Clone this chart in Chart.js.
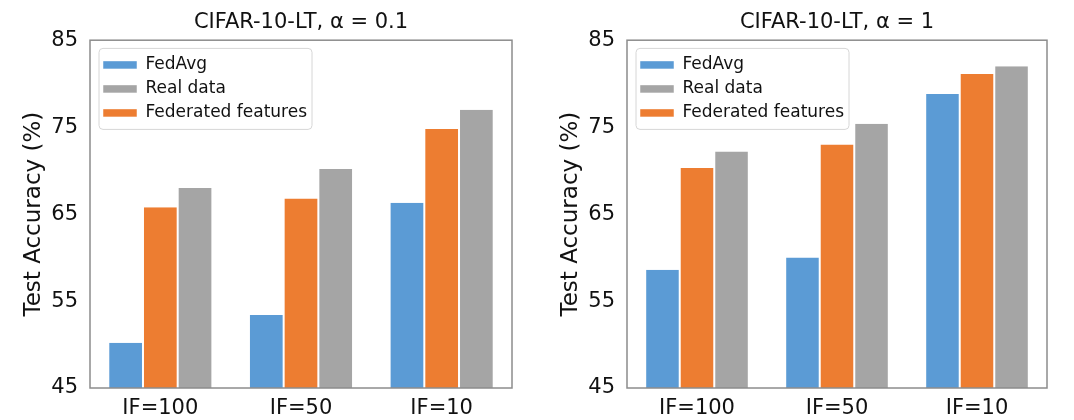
<!DOCTYPE html>
<html>
<head>
<meta charset="utf-8">
<script src="https://cdn.jsdelivr.net/npm/chart.js@4"></script>
<style>
  html, body { margin: 0; padding: 0; background: #fff; }
  .row { display: flex; width: 1074px; height: 420px; }
  .cell { width: 537px; height: 420px; }
</style>
</head>
<body>
<div class="row">
  <div class="cell"><canvas id="chart-alpha-01" width="537" height="420"></canvas></div>
  <div class="cell"><canvas id="chart-alpha-1" width="537" height="420"></canvas></div>
</div>
<script>
const categories = ["IF=100", "IF=50", "IF=10"];
const yMin = 45;
const yMax = 85;
const yStep = 10;
const legendOrder = ["FedAvg", "Real data", "Federated features"];

// alpha = 0.1
const fedavgA01 = [50.2, 53.4, 66.3];
const featuresA01 = [65.8, 66.8, 74.8];
const realA01 = [68.0, 70.2, 77.0];

// alpha = 1
const fedavgA1 = [58.6, 60.0, 78.8];
const featuresA1 = [70.3, 73.0, 81.1];
const realA1 = [72.2, 75.4, 82.0];

const FONT = "'DejaVu Sans', sans-serif";
const INK = "#111";

const framePlugin = {
  id: "frame",
  // legend in "chartArea" keeps top = 0, so pin it inside the plot box
  afterLayout(chart) {
    const lg = chart.legend, a = chart.chartArea;
    if (!lg) return;
    lg.top = a.top;
    lg.bottom = a.bottom;
    lg.left = a.left + 6;
  },
  afterDatasetsDraw(chart) {
    const a = chart.chartArea, ctx = chart.ctx;
    ctx.save();
    ctx.strokeStyle = "#8c8c8c";
    ctx.lineWidth = 1.5;
    ctx.strokeRect(a.left, a.top, a.right - a.left, a.bottom - a.top);
    ctx.restore();
  },
  afterDraw(chart) {
    const boxes = chart.legend && chart.legend.legendHitBoxes;
    if (!boxes || !boxes.length) return;
    let l = Infinity, t = Infinity, r = -Infinity, b = -Infinity;
    boxes.forEach((h) => {
      l = Math.min(l, h.left); t = Math.min(t, h.top);
      r = Math.max(r, h.left + h.width); b = Math.max(b, h.top + h.height);
    });
    const ctx = chart.ctx;
    ctx.save();
    ctx.strokeStyle = "#d6d6d6";
    ctx.lineWidth = 1;
    ctx.beginPath();
    ctx.roundRect(l - 4, t - 8, r - l + 9, b - t + 16, 4);
    ctx.stroke();
    ctx.restore();
  },
};

function makeChart(id, title, fedavg, features, real, rightPad) {
  const el = document.getElementById(id);
  const side = { left: 1, right: 1, top: 0, bottom: 0 };
  return new Chart(el, {
    type: "bar",
    data: {
      labels: categories,
      datasets: [
        { label: "FedAvg", data: fedavg, backgroundColor: "#5b9bd5", borderColor: "#fff", borderWidth: side },
        { label: "Federated features", data: features, backgroundColor: "#ed7d31", borderColor: "#fff", borderWidth: side },
        { label: "Real data", data: real, backgroundColor: "#a5a5a5", borderColor: "#fff", borderWidth: side },
      ],
    },
    options: {
      responsive: false,
      animation: false,
      layout: { padding: { left: 0, right: rightPad, top: 0, bottom: 0 } },
      datasets: { bar: { categoryPercentage: 0.74, barPercentage: 1.0 } },
      plugins: {
        title: {
          display: true,
          text: title,
          fullSize: false,
          color: INK,
          font: { family: FONT, size: 21, weight: "normal" },
          padding: { top: 10, bottom: 5 },
        },
        legend: {
          position: "chartArea",
          align: "start",
          title: { display: true, text: "", font: { size: 1 }, padding: { top: 8, bottom: 0 } },
          labels: {
            boxWidth: 34,
            boxHeight: 8,
            padding: 7,
            color: INK,
            font: { family: FONT, size: 17 },
            sort: (a, b) => legendOrder.indexOf(a.text) - legendOrder.indexOf(b.text),
          },
        },
        tooltip: { enabled: false },
      },
      scales: {
        x: {
          grid: { display: false, drawTicks: false },
          border: { display: false },
          ticks: { color: INK, padding: 8, font: { family: FONT, size: 21 } },
          afterFit: (s) => { s.height = 32; },
        },
        y: {
          min: yMin,
          max: yMax,
          grid: { display: false, drawTicks: false },
          border: { display: false },
          ticks: { stepSize: yStep, color: INK, padding: 12, font: { family: FONT, size: 21 } },
          title: {
            display: true,
            text: "Test Accuracy (%)",
            color: INK,
            font: { family: FONT, size: 23 },
            padding: { top: 20, bottom: 0 },
          },
          afterFit: (s) => { s.width = 90; },
        },
      },
    },
    plugins: [framePlugin],
  });
}

makeChart("chart-alpha-01", "CIFAR-10-LT, α = 0.1", fedavgA01, featuresA01, realA01, 25);
makeChart("chart-alpha-1", "CIFAR-10-LT, α = 1", fedavgA1, featuresA1, realA1, 27);
</script>
</body>
</html>
